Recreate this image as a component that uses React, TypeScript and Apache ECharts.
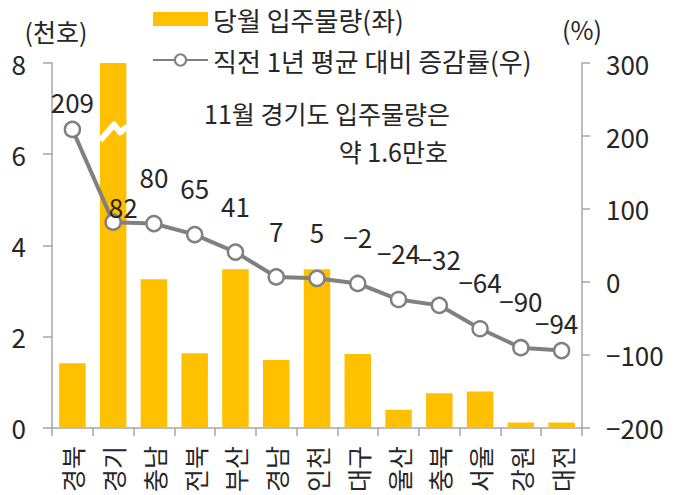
import React, { useEffect, useRef } from "react";
import * as echarts from "echarts";

const categories = ["경북", "경기", "충남", "전북", "부산", "경남", "인천", "대구", "울산", "충북", "서울", "강원", "대전"];
// monthly move-in volume (thousand units); 경기 is ~16 (1.6만호), shown truncated at the axis top
const supply = [1.42, 16, 3.26, 1.64, 3.48, 1.49, 3.48, 1.62, 0.4, 0.76, 0.8, 0.12, 0.12];
// change vs. previous 1-year average (%)
const changeRate = [209, 82, 80, 65, 41, 7, 5, -2, -24, -32, -64, -90, -94];
const leftAxisTicks = [0, 2, 4, 6, 8];
const rightAxisTicks = [-200, -100, 0, 100, 200, 300];
const seriesNames = ["당월 입주물량(좌)", "직전 1년 평균 대비 증감률(우)"];
const axisNames = ["(천호)", "(%)"];
const noteLines = ["11월 경기도 입주물량은", "약 1.6만호"];

// label placement tweaks (style only)
const labelDistance = [6, -6, 25, 25, 25, 25, 25, 25, 25, 25, 25, 25, 6];
const labelDx = [0, 10, 0, 0, 0, 0, 0, 0, 0, 0, 0, 0, -5];

const FONT = "'Noto Sans CJK KR', 'Noto Sans', sans-serif";
const TXT = "#262626";
const AXIS = "#a6a6a6";
const fmt = (v: number) => String(v).replace("-", "\u2212");

export default function App() {
  const ref = useRef<HTMLDivElement>(null);
  useEffect(() => {
    if (!ref.current) return;
    const chart = echarts.init(ref.current, null, { renderer: "svg" });
    const option: any = {
      animation: false,
      textStyle: { fontFamily: FONT, color: TXT },
      legend: {
        orient: "vertical",
        left: 152,
        top: 6,
        padding: 0,
        itemWidth: 55,
        itemHeight: 14,
        itemGap: 15,
        textStyle: { fontFamily: FONT, fontSize: 26, lineHeight: 26, color: TXT },
        data: [
          { name: seriesNames[0], icon: "rect" },
          { name: seriesNames[1] },
        ],
      },
      grid: { left: 52, right: 101, top: 63, bottom: 66 },
      xAxis: {
        type: "category",
        data: categories,
        axisLine: { lineStyle: { color: AXIS, width: 1.5 } },
        axisTick: { show: true, length: 8, lineStyle: { color: AXIS, width: 1.5 } },
        axisLabel: { rotate: 90, margin: 18, fontSize: 25, color: TXT, fontFamily: FONT },
      },
      yAxis: [
        {
          type: "value",
          min: leftAxisTicks[0],
          max: leftAxisTicks[leftAxisTicks.length - 1],
          interval: leftAxisTicks[1] - leftAxisTicks[0],
          name: axisNames[0],
          nameLocation: "end",
          nameGap: 20,
          nameTextStyle: { fontSize: 25, color: TXT, fontFamily: FONT, padding: [0, 0, 0, 8] },
          axisLine: { show: true, lineStyle: { color: AXIS, width: 1.5 } },
          axisTick: { show: true, length: 9, lineStyle: { color: AXIS, width: 1.5 } },
          axisLabel: { margin: 26, fontSize: 26, color: TXT, fontFamily: FONT },
          splitLine: { show: false },
        },
        {
          type: "value",
          min: rightAxisTicks[0],
          max: rightAxisTicks[rightAxisTicks.length - 1],
          interval: rightAxisTicks[1] - rightAxisTicks[0],
          name: axisNames[1],
          nameLocation: "end",
          nameGap: 22,
          nameTextStyle: { fontSize: 25, color: TXT, fontFamily: FONT },
          axisLine: { show: true, lineStyle: { color: AXIS, width: 1.5 } },
          axisTick: { show: true, length: 8, lineStyle: { color: AXIS, width: 1.5 } },
          axisLabel: { margin: 24, fontSize: 26, color: TXT, fontFamily: FONT, formatter: (v: number) => fmt(v) },
          splitLine: { show: false },
        },
      ],
      series: [
        {
          name: seriesNames[0],
          type: "bar",
          yAxisIndex: 0,
          data: supply,
          barWidth: "65%",
          clip: true,
          itemStyle: { color: "#FFC000" },
        },
        {
          name: seriesNames[1],
          type: "line",
          yAxisIndex: 1,
          z: 5,
          data: changeRate.map((v, i) => ({
            value: v,
            label: { distance: labelDistance[i], offset: [labelDx[i], 0] },
          })),
          symbol: "circle",
          symbolSize: 15,
          lineStyle: { color: "#808080", width: 4 },
          itemStyle: { color: "#ffffff", borderColor: "#808080", borderWidth: 2.5 },
          label: {
            show: true,
            position: "top",
            fontSize: 26,
            color: TXT,
            fontFamily: FONT,
            formatter: (p: any) => fmt(p.value),
          },
        },
      ],
    };
    chart.setOption(option);

    // break mark on the truncated 경기 bar + annotation
    const c = chart.convertToPixel({ seriesIndex: 0 }, [1, 6.5]) as number[];
    const cx = c[0];
    const cy = c[1];
    chart.setOption({
      graphic: [
        {
          type: "polyline",
          z: 10,
          shape: {
            points: [
              [cx - 13, cy + 9],
              [cx + 1, cy - 7],
              [cx + 7, cy + 1],
              [cx + 14, cy - 5],
            ],
          },
          style: { stroke: "#ffffff", lineWidth: 6, fill: null, lineJoin: "round" },
        },
        {
          type: "text",
          right: 233,
          top: 100,
          style: { text: noteLines[0], fontSize: 25, fill: TXT, fontFamily: FONT },
        },
        {
          type: "text",
          right: 235,
          top: 138,
          style: { text: noteLines[1], fontSize: 25, fill: TXT, fontFamily: FONT },
        },
      ],
    });
    return () => chart.dispose();
  }, []);
  return <div ref={ref} style={{ position: "absolute", left: 0, top: 0, width: 683, height: 495 }} />;
}
